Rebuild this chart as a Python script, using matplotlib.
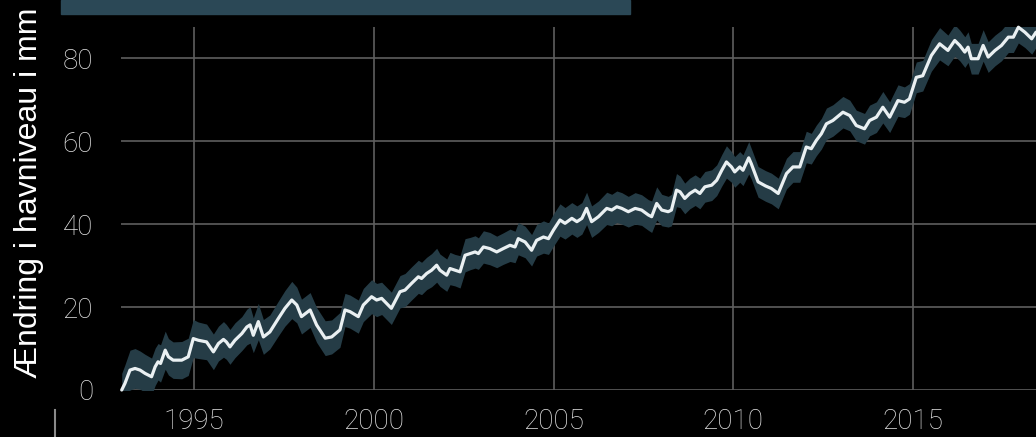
import numpy as np
import matplotlib.pyplot as plt

# Global mean sea level change (mm), satellite altimetry, with uncertainty band
years = [
    1992.99, 1993.08, 1993.22, 1993.36, 1993.50, 1993.64, 1993.82, 1993.92, 1994.00, 1994.07,
    1994.20, 1994.29, 1994.42, 1994.66, 1994.84, 1994.98, 1995.12, 1995.35, 1995.54, 1995.68,
    1995.82, 1995.90, 1996.00, 1996.14, 1996.33, 1996.47, 1996.56, 1996.65, 1996.79, 1996.93,
    1997.11, 1997.35, 1997.53, 1997.72, 1997.86, 1997.99, 1998.23, 1998.41, 1998.65, 1998.83,
    1999.06, 1999.20, 1999.34, 1999.57, 1999.71, 1999.94, 2000.08, 2000.22, 2000.49, 2000.73,
    2000.87, 2001.05, 2001.24, 2001.33, 2001.47, 2001.61, 2001.75, 2001.84, 2002.03, 2002.12,
    2002.26, 2002.40, 2002.54, 2002.68, 2002.82, 2002.91, 2003.05, 2003.23, 2003.42, 2003.60,
    2003.79, 2003.93, 2004.02, 2004.21, 2004.39, 2004.53, 2004.72, 2004.86, 2005.00, 2005.18,
    2005.32, 2005.51, 2005.65, 2005.79, 2005.92, 2006.06, 2006.25, 2006.48, 2006.62, 2006.76,
    2006.90, 2007.08, 2007.27, 2007.45, 2007.64, 2007.73, 2007.87, 2008.01, 2008.19, 2008.28,
    2008.42, 2008.52, 2008.65, 2008.79, 2008.94, 2009.07, 2009.21, 2009.40, 2009.54, 2009.68,
    2009.81, 2009.95, 2010.04, 2010.18, 2010.27, 2010.43, 2010.50, 2010.69, 2010.90, 2011.06,
    2011.25, 2011.48, 2011.66, 2011.85, 2012.03, 2012.17, 2012.31, 2012.45, 2012.59, 2012.77,
    2013.05, 2013.24, 2013.42, 2013.65, 2013.79, 2013.98, 2014.16, 2014.35, 2014.58, 2014.76,
    2014.90, 2015.09, 2015.27, 2015.51, 2015.74, 2015.97, 2016.16, 2016.30, 2016.44, 2016.53,
    2016.62, 2016.81, 2016.95, 2017.09, 2017.28, 2017.46, 2017.65, 2017.79, 2017.93, 2018.11,
    2018.30, 2018.42,
]
level_mm = [
    0.0, 1.6, 4.8, 5.2, 4.8, 4.0, 3.2, 5.6, 6.8, 6.4,
    9.6, 8.0, 7.2, 7.2, 8.0, 12.4, 12.0, 11.6, 9.2, 11.2,
    12.2, 11.6, 10.4, 12.0, 13.6, 15.2, 15.7, 13.2, 16.5, 12.8,
    14.0, 17.3, 19.7, 21.7, 20.5, 17.7, 19.3, 15.7, 12.5, 12.8,
    14.5, 19.3, 18.9, 17.7, 20.5, 22.5, 21.7, 22.1, 19.7, 23.7,
    24.1, 25.7, 27.3, 26.9, 28.1, 28.9, 30.1, 28.9, 27.7, 29.3,
    28.9, 28.5, 32.5, 32.9, 33.3, 32.9, 34.5, 34.1, 33.3, 34.1,
    34.9, 34.5, 36.5, 35.7, 33.7, 36.1, 36.9, 36.5, 38.6, 41.0,
    40.2, 41.4, 40.6, 41.4, 43.8, 40.6, 41.8, 43.8, 43.4, 44.2,
    43.8, 43.0, 43.8, 43.4, 42.2, 41.8, 45.0, 43.4, 43.0, 43.4,
    48.2, 47.8, 46.2, 47.4, 48.2, 47.4, 49.0, 49.4, 50.6, 53.0,
    55.0, 53.8, 52.6, 53.8, 53.0, 56.0, 54.6, 50.2, 49.2, 48.6,
    47.4, 52.2, 53.8, 53.8, 58.6, 58.2, 60.2, 61.8, 64.2, 65.0,
    67.0, 66.2, 63.8, 63.0, 65.0, 65.8, 68.2, 65.8, 69.8, 69.4,
    70.2, 75.4, 75.8, 80.7, 83.5, 81.9, 84.3, 83.1, 81.5, 82.7,
    79.9, 79.9, 83.1, 80.3, 81.9, 83.1, 85.1, 85.1, 87.5, 86.3,
    84.7, 86.3,
]
band_mm = [
    4.0, 4.5, 4.8, 4.8, 4.6, 4.6, 4.5, 4.5, 4.4, 4.5,
    4.6, 4.4, 4.4, 4.5, 4.5, 4.6, 4.4, 4.3, 4.3, 4.2,
    4.3, 4.2, 4.2, 4.2, 4.1, 4.3, 4.4, 4.2, 4.4, 4.2,
    4.1, 4.2, 4.3, 4.5, 4.3, 4.2, 4.2, 4.2, 4.2, 4.1,
    4.2, 4.0, 4.0, 4.0, 4.0, 4.1, 4.0, 3.9, 3.9, 3.9,
    4.0, 4.0, 4.0, 3.9, 3.9, 4.0, 4.1, 3.9, 3.9, 3.9,
    3.8, 3.9, 4.0, 3.9, 3.9, 3.8, 3.9, 3.9, 3.8, 3.8,
    3.9, 3.8, 3.9, 3.8, 3.8, 3.8, 3.9, 3.8, 3.9, 3.9,
    3.8, 3.8, 3.8, 3.8, 3.9, 3.8, 3.8, 3.9, 3.8, 3.8,
    3.8, 3.7, 3.8, 3.7, 3.7, 3.8, 4.0, 3.8, 3.7, 3.8,
    4.0, 3.8, 3.7, 3.7, 3.7, 3.7, 3.7, 3.7, 3.7, 3.8,
    3.9, 3.7, 3.7, 3.7, 3.7, 3.9, 3.7, 3.7, 3.7, 3.7,
    3.7, 3.7, 3.7, 3.7, 3.8, 3.7, 3.7, 3.7, 3.8, 3.8,
    3.8, 3.7, 3.7, 3.7, 3.7, 3.7, 3.8, 3.7, 3.8, 3.7,
    3.7, 3.7, 3.7, 3.8, 3.9, 3.7, 3.8, 3.7, 3.7, 3.7,
    3.7, 3.7, 3.8, 3.7, 3.7, 3.7, 3.7, 3.7, 3.8, 3.7,
    3.7, 3.7,
]
year_ticks = [1995, 2000, 2005, 2010, 2015]
mm_ticks = [0, 20, 40, 60, 80]

bg = '#000000'
band_col = '#253c46'
line_col = '#eaf0f2'
grid_col = '#5e5e5e'
tick_col = '#e4e4e4'

x = np.array(years)
y = np.array(level_mm)
b = np.array(band_mm)

fig = plt.figure(figsize=(10.36, 4.37), dpi=100, facecolor=bg)
ax = fig.add_axes([121 / 1036, 1 - 390 / 437, 1 - 121 / 1036, 363 / 437])
ax.set_facecolor(bg)

ax.fill_between(x, y - b, y + b, color=band_col, lw=0, zorder=2)
ax.plot(x, y, color=line_col, lw=2.3, solid_joinstyle='round',
        solid_capstyle='round', zorder=3, clip_on=False)

ax.set_xlim(1992.97, 2018.42)
ax.set_ylim(0, 87.55)
ax.set_xticks(year_ticks)
ax.set_yticks(mm_ticks)
ax.grid(True, color=grid_col, lw=1.2, zorder=1)
ax.set_axisbelow(True)
for s in ax.spines.values():
    s.set_visible(False)

ax.tick_params(axis='both', length=0, colors=tick_col, labelsize=20)
ax.tick_params(axis='x', pad=13)
ax.tick_params(axis='y', pad=20)
for lab in ax.get_xticklabels() + ax.get_yticklabels():
    lab.set_fontfamily('Roboto')
    lab.set_fontweight('light')

fig.text(29 / 1036, 1 - 193 / 437, 'Ændring i havniveau i mm', rotation=90,
         ha='center', va='center', color='white', fontsize=23,
         family='Liberation Sans')

# header strip and small marker at bottom left
fig.patches.append(plt.Rectangle((61 / 1036, 1 - 14 / 437), 569 / 1036, 14 / 437,
                                 transform=fig.transFigure, color='#2b4856', zorder=0))
fig.add_artist(plt.Line2D([55 / 1036, 55 / 1036], [0, 27 / 437],
                          transform=fig.transFigure, color='#8a8a8a', lw=1.5))

fig.savefig('out.png', dpi=100, facecolor=bg)
